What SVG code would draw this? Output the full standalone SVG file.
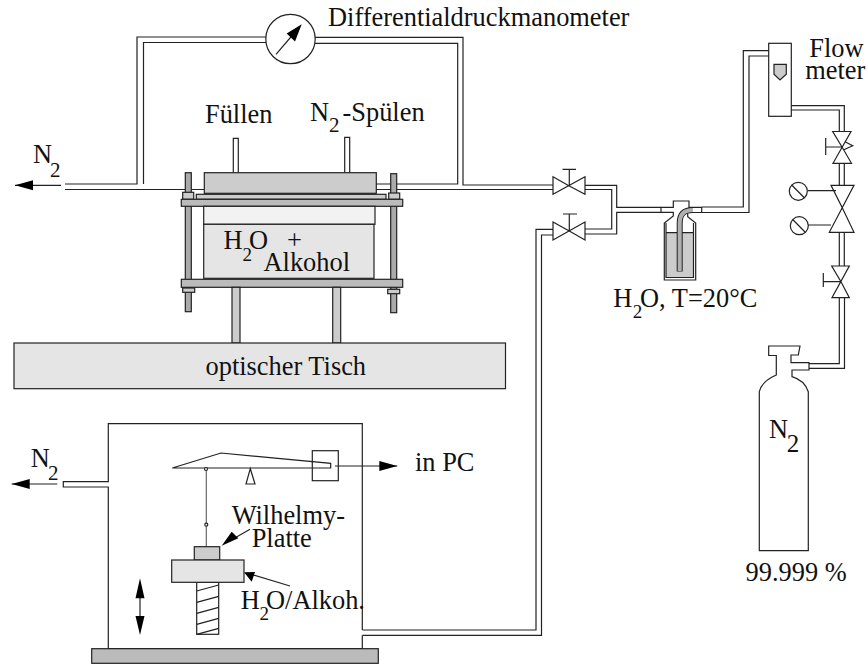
<svg xmlns="http://www.w3.org/2000/svg" width="868" height="664" viewBox="0 0 868 664">
<style>
text{font-family:"Liberation Serif","Times New Roman",serif;font-size:26.4px;fill:#111}
.s20{font-size:21px}
.s18{font-size:19px}
.s25{font-size:25px}
.l{fill:none;stroke:#222;stroke-width:1.2}
.w{fill:#fff;stroke:#222;stroke-width:1.2}
.g{fill:none;stroke:#666;stroke-width:1.2}
.a{fill:#ccc;stroke:#222;stroke-width:1.2}
.b{fill:#bbb;stroke:#222;stroke-width:1.2}
.c{fill:#e5e5e5;stroke:#222;stroke-width:1.2}
.d{fill:#f2f2f2;stroke:#222;stroke-width:1.2}
.e{fill:#aaa;stroke:#222;stroke-width:1.2}
.k{fill:#000;stroke:none}
</style>
<defs>
<marker id="head" markerUnits="userSpaceOnUse" markerWidth="20" markerHeight="12" refX="19" refY="6" orient="auto"><path d="M1 1L19 6L1 11Z" fill="#000"/></marker>
</defs>
<g id="connectors">
<path class="l" d="M65 184H137V37H266M65 189.5H204M143.5 184V42.5H266"/>
<path class="l" d="M315 37.3H463V185H553M315 43.3H457.7V184H376M376 189.5H553"/>
<path class="l" d="M585 185.3H616.7V207.3H661M585 189.5H611.7V229H585M585 234H616.7V212.3H661"/>
<path class="l" d="M553 229.3H536V630H362.5M553 235H541.5V635.3H362.5"/>
<path class="l" d="M701.7 207H743.3V50.7H768.7M701.7 212.5H749V56H768.7"/>
<path class="l" d="M791 105.7H844.3V132M791 110H839.3V132M839.3 163V186M844.3 163V186M839.3 232V266M844.3 232V266M839.3 298V363.7H809M844.5 298V368.3H809"/>
<path class="l" d="M233.3 172.7V138.3H238.3V172.7M344.7 172.7V137.3H349.7V172.7"/>
<path class="l" d="M61 185.3H15" marker-end="url(#head)"/>
</g>
<g id="manometer">
<circle class="w" cx="290.5" cy="39" r="24.7"/>
<path class="l" d="M276 54.3L296 31"/>
<path class="k" d="M301.7 24.3L286.7 33.5L295 41.5Z"/>
</g>
<g id="cell">
<rect class="e" x="185.3" y="172.7" width="6" height="139"/>
<rect class="e" x="390.7" y="173.7" width="6" height="139"/>
<rect class="a" x="204.3" y="172.7" width="172" height="20.6"/>
<rect class="a" x="196.3" y="194.3" width="189.7" height="5"/>
<rect class="a" x="182.7" y="192.3" width="11" height="7"/>
<rect class="a" x="388.7" y="193" width="11" height="6.3"/>
<rect class="b" x="181.3" y="199.3" width="221.4" height="7"/>
<rect class="d" x="203.7" y="206.3" width="171.3" height="18"/>
<rect class="c" x="203.7" y="224.3" width="170.3" height="54"/>
<rect class="b" x="181.3" y="279.3" width="221.4" height="8"/>
<rect class="a" x="182.7" y="288" width="12" height="4.3"/>
<rect class="a" x="387.7" y="289.3" width="12" height="4.4"/>
<rect class="a" x="232" y="287.3" width="8" height="55.7"/>
<rect class="a" x="332.7" y="287.3" width="8" height="55.7"/>
<text x="223.5" y="249">H</text><text class="s18" x="242.5" y="261">2</text><text x="249" y="249">O</text>
<text x="287" y="249">+</text>
<text x="263.5" y="270.7">Alkohol</text>
</g>
<g id="table">
<rect class="c" x="14" y="343" width="491.5" height="45.7"/>
<text x="205.5" y="375">optischer Tisch</text>
</g>
<g id="valve-1">
<path class="l" d="M569.3 186L553 176.7V194.3L585 176.7V194.3ZM569.3 186V169.3M562.5 169.3H576"/>
</g>
<g id="valve-2">
<path class="l" d="M569.3 231L553 222V240L585 222V240ZM569.3 231V214M563 214H577"/>
</g>
<g id="wash-bottle">
<rect x="666" y="232.7" width="28" height="45" fill="#ccc"/>
<path class="l" d="M661 212.3V207.3H673.3V201H689V207.3H701.7V212.5H692M661 212.3H673.3V216L664.3 223V280H695.7V223L687.7 216.7V212.5M666 223V277.5H693.5V223M666 232.7H693.5"/>
<path d="M693 210C684 210 679.7 214 679.7 223V271.5" fill="none" stroke="#222" stroke-width="6"/>
<path d="M693 210C684 210 679.7 214 679.7 223V271" fill="none" stroke="#b0b0b0" stroke-width="4"/>
</g>
<g id="flowmeter">
<rect class="w" x="768.7" y="43.3" width="22.6" height="73"/>
<path class="a" d="M774 64.3H786.3V74.3L780 80L774 74.3Z"/>
</g>
<g id="valve-3">
<path class="l" d="M842 147L832.7 131.5H851L833 163.3H851.5ZM842 147H825.7M825.7 138V155M845 141.7L852.7 145.7L843.3 150"/>
</g>
<g id="regulator">
<path class="l" d="M842.5 208.3L831 185.3H854L829.3 232.3H854ZM808 190.7H836M808 225H831"/>
<circle class="w" cx="798.3" cy="191.3" r="9"/>
<path class="l" d="M791.7 185L804.5 198"/>
<circle class="w" cx="799.3" cy="225.7" r="9"/>
<path class="l" d="M792.7 219.5L805.5 232.5"/>
</g>
<g id="valve-4">
<path class="l" d="M841 281.7L831.7 266H849.3L832 297.7H849.3ZM841 281.7H823.3M823.3 273V287"/>
</g>
<g id="cylinder">
<path class="w" d="M768.7 346V355.5H776.3V375C767 379 761 385 759.3 391.7V550.7H808.3V391.7C806 385 800 379 792 376.7V370H809V362.7H791V355H798.3L800 346Z"/>
<text x="769" y="438">N</text><text class="s25" x="786.7" y="451.7">2</text>
<text x="745.5" y="581">99.999 %</text>
</g>
<g id="balance-box">
<path class="l" d="M362.3 630V423.7H108.3V481.7H63.3V487H108.3V648.7H362.3V635.3"/>
<rect class="b" x="91.7" y="648.7" width="286.6" height="14.6"/>
<path class="l" d="M57.3 484H11.7" marker-end="url(#head)"/>
<text x="30.7" y="467.3">N</text><text class="s20" x="48" y="480">2</text>
<path class="l" d="M172.3 468L221 453L330.7 463.3V468ZM250.3 468.7L246 484H255Z"/>
<rect class="l" x="312.3" y="450.7" width="26" height="30"/>
<path class="l" d="M335 466H397.3" marker-end="url(#head)"/>
<path class="g" d="M206.3 470V546.7"/>
<circle class="w" cx="206" cy="469" r="1.5"/>
<circle class="w" cx="206.3" cy="524.7" r="1.5"/>
<rect class="a" x="194.3" y="546.7" width="25.4" height="13.3"/>
<rect class="w" x="196.7" y="582.3" width="22" height="52"/>
<path class="l" d="M196.7 591L218.7 585M196.7 602.3L218.7 596.3M196.7 613.3L218.7 607.3M196.7 624.3L218.7 618.3M196.7 634.3L218.7 628.3"/>
<rect class="c" x="171.7" y="560" width="72.3" height="22.3"/>
<path class="l" d="M250 529.3L233 539"/>
<path class="k" d="M221.7 545.7L231.7 531.7L238.3 538.3Z"/>
<path class="l" d="M290 586L250 574"/>
<path class="k" d="M244 572.3L255 572L251.7 581.7Z"/>
<path class="l" d="M140 590V625"/>
<path class="k" d="M140 578.3L144.5 598.3H135.5ZM140 635L144.5 616H135.5Z"/>
<text x="415" y="471">in PC</text>
<text x="231.7" y="524">Wilhelmy-</text>
<text x="251.7" y="547.3">Platte</text>
<text x="240.7" y="609">H</text><text class="s18" x="259.5" y="620">2</text><text x="266" y="609">O/Alkoh.</text>
</g>
<g id="labels">
<text x="328" y="26">Differentialdruckmanometer</text>
<text x="205" y="122.7">Füllen</text>
<text x="310" y="120.7">N</text><text class="s20" x="329" y="132">2</text><text x="342.5" y="120.7">-Spülen</text>
<text x="33" y="163.3">N</text><text class="s20" x="50" y="176.7">2</text>
<text x="809.3" y="56.7">Flow</text>
<text x="805.3" y="79">meter</text>
<text x="613.3" y="307.3">H</text><text class="s18" x="632.7" y="318">2</text><text x="640" y="307.3">O, T=20°C</text>
</g>
</svg>
